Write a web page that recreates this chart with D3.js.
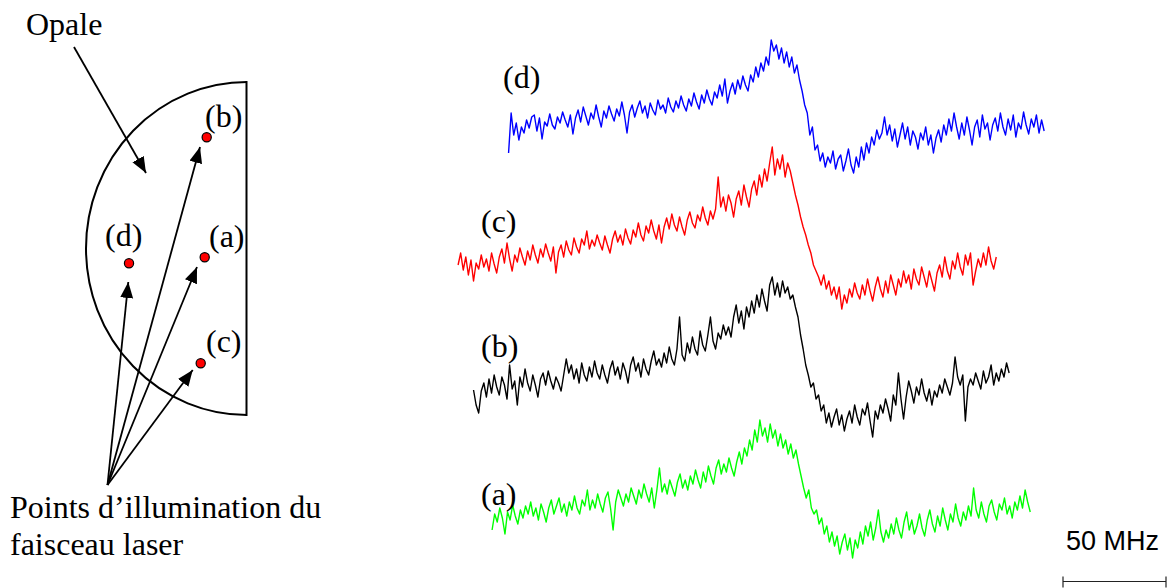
<!DOCTYPE html>
<html><head><meta charset="utf-8">
<script src="https://cdn.jsdelivr.net/npm/d3@7"></script>
<style>body{margin:0;background:#fff}svg{display:block}</style>
</head><body>
<svg id="c" width="1170" height="588"></svg>
<script>
// ---- DATA ----
// sample step (MHz) and start frequency (MHz) of every trace
const stepMHz = 1.25;
const startMHz = {a: 18, b: 9, c: 1.5, d: 26};
const scaleBarMHz = 50;
const scaleBarLabel = "50 MHz";
const traceLabels = ["(a)", "(b)", "(c)", "(d)"];
// signal (arbitrary units) of each trace
const traceD = [22,62,40,52,35,48,42,55,47,58,
60,44,57,36,53,49,61,50,46,58,
52,63,55,48,60,41,57,65,53,68,
59,50,62,56,70,58,48,64,57,69,
61,54,66,59,73,60,42,63,70,58,
67,74,62,69,57,72,65,60,75,66,
70,62,77,68,63,74,67,79,70,64,
76,69,82,73,66,80,72,85,76,70,
83,77,90,79,96,72,84,92,81,95,
86,99,90,84,100,93,108,98,112,104,
118,110,135,124,130,116,127,112,123,108,
118,102,110,95,84,70,62,40,48,25,
30,14,22,8,18,12,24,6,16,20,
4,14,26,10,2,18,8,28,15,32,
22,38,30,45,36,42,58,40,50,34,
46,28,40,52,36,48,30,44,38,26,
42,35,48,30,40,22,37,45,33,50,
40,56,44,62,48,36,52,40,58,45,
30,48,55,38,60,46,52,35,50,57,
44,62,48,40,56,45,60,38,52,46,
63,50,41,56,48,60,42,55,44];
const traceC = [50,62,45,58,40,55,34,52,46,60,
48,56,44,62,51,42,58,66,52,72,
56,44,60,53,67,58,50,64,55,70,
60,52,66,58,71,62,54,68,42,63,
70,58,74,65,60,77,68,62,76,70,
84,66,75,69,80,72,65,79,70,62,
76,84,73,80,70,86,77,71,85,78,
92,80,74,89,82,95,84,76,90,72,
88,97,86,101,90,84,98,88,80,95,
103,92,87,100,94,108,97,90,104,96,
106,138,108,118,104,120,112,98,116,124,
110,130,118,108,126,134,120,140,128,146,
134,152,168,140,156,146,160,138,152,144,
132,120,110,98,88,80,70,62,50,44,
38,30,40,26,34,20,28,16,28,6,
20,12,26,18,32,22,16,30,20,36,
24,14,28,38,26,18,34,22,40,30,
20,36,28,44,32,40,26,46,36,30,
48,38,28,44,34,24,42,50,38,58,
44,36,54,46,62,48,40,60,50,62,
30,44,56,48,62,50,68,54,46,58];
const traceB = [45,30,22,44,52,38,56,42,60,48,
40,58,50,36,70,46,54,30,58,48,
66,52,44,60,50,38,56,62,50,64,
54,46,58,52,44,60,76,62,70,56,
66,52,72,60,54,68,58,74,62,56,
70,60,52,66,74,60,68,56,72,64,
52,70,78,64,72,58,76,66,60,74,
84,70,76,68,82,72,88,76,70,86,
118,80,74,92,82,98,86,80,104,90,
84,100,118,94,86,102,96,110,100,108,
98,118,130,112,124,106,128,118,134,122,
140,128,146,134,124,150,158,140,152,138,
154,142,148,136,140,128,118,100,86,70,
60,48,52,36,40,24,30,12,22,8,
18,26,10,20,4,16,24,12,30,18,
10,26,20,32,14,-2,24,16,30,22,
36,26,14,40,30,62,36,16,38,54,
44,32,48,40,56,42,34,46,30,44,
38,50,42,56,48,40,52,78,58,50,
60,14,48,56,50,62,54,46,64,52,
58,70,50,62,54,66,58,72,62];
const traceA = [30,46,38,52,42,26,48,40,55,44,
36,50,42,54,46,58,44,52,40,56,
48,38,52,60,46,54,62,48,56,44,
58,50,64,52,46,60,54,70,50,60,
52,66,56,48,62,68,52,30,58,70,
62,54,66,58,72,64,56,70,62,76,
66,58,72,52,70,92,68,76,66,80,
72,64,78,86,72,80,70,84,76,90,
80,72,88,78,94,84,76,92,100,86,
96,88,102,92,84,98,108,96,112,104,
120,110,130,118,140,124,132,118,136,122,
130,114,126,112,120,106,116,102,110,96,
84,72,62,70,52,46,50,36,42,26,
34,18,28,14,24,6,18,26,10,22,
2,20,12,28,16,34,24,38,20,32,
50,28,18,30,22,36,26,42,30,22,
38,48,30,40,26,34,46,32,24,40,
50,36,28,44,34,52,40,30,46,38,
56,42,34,48,40,54,44,72,50,42,
58,46,38,54,60,48,40,56,50,62,
46,54,42,58,50,64,52,70,58,48];
// diagram texts
const diagramTitle = "Opale";
const diagramCaption = ["Points d\u2019illumination du", "faisceau laser"];

// ---- LAYOUT ----
const svg = d3.select("#c");
const serif = "'Liberation Serif','Times New Roman',serif";
const fontSize = 32;
const fx = d3.scaleLinear().domain([0, 300]).range([455, 455 + 618]);
const traces = [
  {key: "d", values: traceD, base: 175, color: "#0000ff", label: traceLabels[3], lx: 503, ly: 88},
  {key: "c", values: traceC, base: 315, color: "#ff0000", label: traceLabels[2], lx: 481, ly: 232},
  {key: "b", values: traceB, base: 435, color: "#000000", label: traceLabels[1], lx: 481, ly: 357},
  {key: "a", values: traceA, base: 560, color: "#00ff00", label: traceLabels[0], lx: 481, ly: 505}
];
traces.forEach(t => {
  const y = d3.scaleLinear().domain([0, 100]).range([t.base, t.base - 100]);
  const line = d3.line()
    .x((v, i) => fx(startMHz[t.key] + stepMHz * i))
    .y(v => y(v));
  svg.append("path").datum(t.values)
    .attr("d", line).attr("fill", "none")
    .attr("stroke", t.color).attr("stroke-width", 1.4)
    .attr("stroke-linejoin", "round");
  svg.append("text").attr("x", t.lx).attr("y", t.ly)
    .attr("font-family", serif).attr("font-size", fontSize).attr("fill", "#000")
    .text(t.label);
});

// scale bar
const barX0 = 1063, barY = 581.5;
const barLen = fx(scaleBarMHz) - fx(0);
const bar = svg.append("g").attr("stroke", "#222").attr("stroke-width", 1.2);
bar.append("line").attr("x1", barX0).attr("x2", barX0 + barLen).attr("y1", barY).attr("y2", barY);
bar.append("line").attr("x1", barX0).attr("x2", barX0).attr("y1", barY - 5).attr("y2", barY + 6);
bar.append("line").attr("x1", barX0 + barLen).attr("x2", barX0 + barLen).attr("y1", barY - 5).attr("y2", barY + 6);
svg.append("text").attr("x", 1066).attr("y", 550)
  .attr("font-family", "'Liberation Sans',Arial,sans-serif").attr("font-size", 27).attr("fill", "#000")
  .text(scaleBarLabel);

// ---- DIAGRAM ----
const defs = svg.append("defs");
defs.append("marker").attr("id", "ah").attr("markerUnits", "userSpaceOnUse")
  .attr("markerWidth", 17).attr("markerHeight", 14).attr("refX", 16).attr("refY", 6.5)
  .attr("orient", "auto")
  .append("path").attr("d", "M0,0 L16,6.5 L0,13 Z").attr("fill", "#000");

const g = svg.append("g").attr("fill", "none").attr("stroke", "#000");
g.append("path").attr("d", "M247,82 A161,166.5 0 0 0 247,415").attr("stroke-width", 2);
g.append("line").attr("x1", 246.5).attr("x2", 246.5).attr("y1", 81).attr("y2", 416).attr("stroke-width", 2);

const focal = [107.5, 485];
const arrowTips = [[200, 147], [128.3, 282], [197, 267], [192.7, 370]];
arrowTips.forEach(p => {
  g.append("line").attr("x1", focal[0]).attr("y1", focal[1]).attr("x2", p[0]).attr("y2", p[1])
    .attr("stroke-width", 1.8).attr("marker-end", "url(#ah)");
});
g.append("line").attr("x1", 74).attr("y1", 47).attr("x2", 146).attr("y2", 173)
  .attr("stroke-width", 1.8).attr("marker-end", "url(#ah)");

const dots = [[206.7, 137.3], [204.7, 257.3], [129, 263.3], [200.7, 363.3]];
dots.forEach(p => {
  svg.append("circle").attr("cx", p[0]).attr("cy", p[1]).attr("r", 4.6)
    .attr("fill", "#ff0000").attr("stroke", "#000").attr("stroke-width", 1.2);
});
const dlabels = [["(b)", 205, 127], ["(a)", 209, 247], ["(d)", 105, 246], ["(c)", 206, 352]];
dlabels.forEach(d => {
  svg.append("text").attr("x", d[1]).attr("y", d[2]).attr("font-family", serif)
    .attr("font-size", fontSize).attr("fill", "#000").text(d[0]);
});
svg.append("text").attr("x", 26).attr("y", 35).attr("font-family", serif)
  .attr("font-size", fontSize).attr("fill", "#000").text(diagramTitle);
diagramCaption.forEach((s, i) => {
  svg.append("text").attr("x", 10).attr("y", 518 + i * 37).attr("font-family", serif)
    .attr("font-size", fontSize).attr("fill", "#000").text(s);
});
</script>
</body></html>
